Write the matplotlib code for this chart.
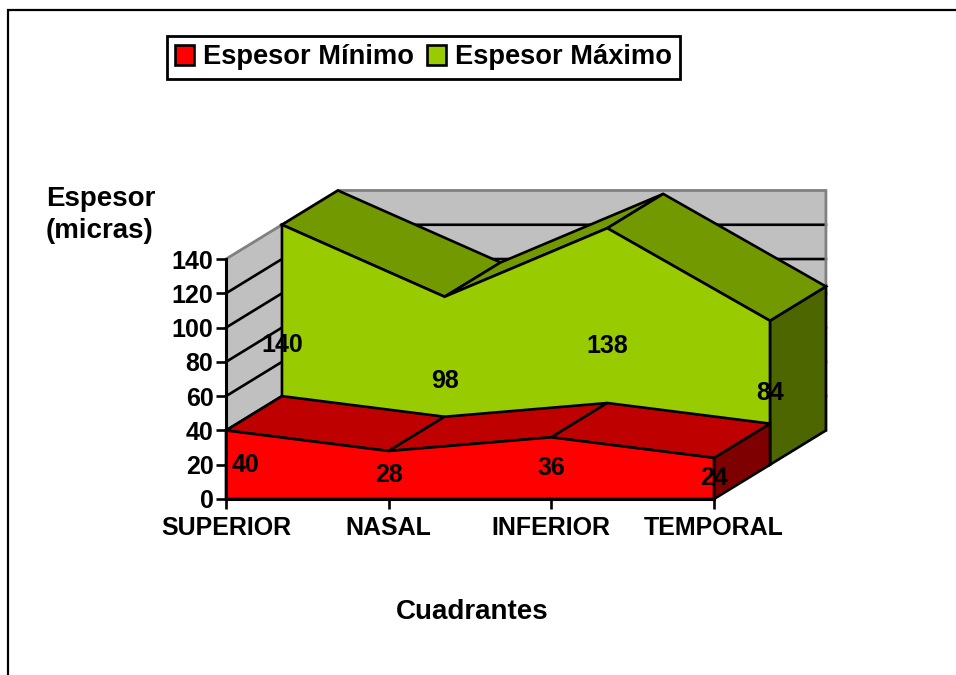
import matplotlib
matplotlib.use("Agg")
import matplotlib.pyplot as plt
from matplotlib.patches import Patch, Polygon, Rectangle

plt.rcParams['font.family'] = ['Liberation Sans', 'DejaVu Sans']
plt.rcParams['font.weight'] = 'bold'

categories = ['SUPERIOR', 'NASAL', 'INFERIOR', 'TEMPORAL']
espesor_min = [40, 28, 36, 24]
espesor_max = [140, 98, 138, 84]
y_ticks = [0, 20, 40, 60, 80, 100, 120, 140]

W, H = 956, 675
# pixel position of the axes origin and scale per category / per micra
X0, Y0 = 226, 499
PX_CAT = 162.67
PX_VAL = 1.714
# oblique depth step, in data units
DX, DY = 0.344, 20
LW = 1.9


def proj(cat, val, depth):
    return (cat + depth * DX, val + depth * DY)


def face(ax, pts, color, z, edge='black'):
    xy = [proj(*p) for p in pts]
    ax.add_patch(Polygon(xy, closed=True, facecolor=color, edgecolor=edge,
                         linewidth=LW, joinstyle='miter', zorder=z))


def area3d(ax, vals, depth, front, top, side, z):
    n = len(vals)
    # right end cap
    face(ax, [(n - 1, vals[-1], depth), (n - 1, vals[-1], depth + 1),
              (n - 1, 0, depth + 1), (n - 1, 0, depth)], side, z)
    # top faces
    for i in range(n - 1):
        face(ax, [(i, vals[i], depth), (i + 1, vals[i + 1], depth),
                  (i + 1, vals[i + 1], depth + 1), (i, vals[i], depth + 1)], top, z)
    # front face
    pts = [(i, vals[i], depth) for i in range(n)]
    pts += [(n - 1, 0, depth), (0, 0, depth)]
    face(ax, pts, front, z)


fig = plt.figure(figsize=(W / 100, H / 100), dpi=100)
ax = fig.add_axes([0, 0, 1, 1])
ax.set_xlim(-X0 / PX_CAT, (W - X0) / PX_CAT)
ax.set_ylim(-(H - Y0) / PX_VAL, Y0 / PX_VAL)
ax.patch.set_visible(False)

# outer frame, runs off the picture on the right and bottom
fig.add_artist(Rectangle((7.5 / W, -0.2), 2, 1.2 - 9.5 / H, transform=fig.transFigure,
                         fill=False, edgecolor='black', linewidth=1.6))

# walls
wall = '#C0C0C0'
face(ax, [(0, 0, 0), (0, 140, 0), (0, 140, 2), (0, 0, 2)], wall, 1, edge='none')
face(ax, [(0, 0, 2), (0, 140, 2), (3, 140, 2), (3, 0, 2)], wall, 1, edge='none')
for v in y_ticks[1:-1]:
    xs, ys = zip(proj(0, v, 0), proj(0, v, 2), proj(3, v, 2))
    ax.plot(xs, ys, color='black', lw=LW, zorder=2)
xs, ys = zip(proj(0, 140, 0), proj(0, 140, 2), proj(3, 140, 2), proj(3, 0, 2))
ax.plot(xs, ys, color='#808080', lw=2, zorder=2, solid_joinstyle='miter')

area3d(ax, espesor_max, 1, '#99CC00', '#739900', '#4D6600', 3)
area3d(ax, espesor_min, 0, '#FF0000', '#BF0000', '#7F0000', 4)

# data labels sit at half height of each series
for i, v in enumerate(espesor_max):
    x, y = proj(i, v / 2, 1)
    ax.text(x, y, str(v), ha='center', va='center', fontsize=18, zorder=6)
for i, v in enumerate(espesor_min):
    x, y = proj(i, v / 2, 0)
    if i == 0:
        x += 0.12
    ax.text(x, y, str(v), ha='center', va='center', fontsize=18, zorder=6)

# axes
for s in ['top', 'right']:
    ax.spines[s].set_visible(False)
ax.spines['left'].set_position(('data', 0))
ax.spines['bottom'].set_position(('data', 0))
ax.spines['left'].set_bounds(0, 140)
ax.spines['bottom'].set_bounds(0, 3)
for s in ['left', 'bottom']:
    ax.spines[s].set_linewidth(2.2)
    ax.spines[s].set_zorder(5)
ax.set_xticks(range(len(categories)))
ax.set_xticklabels(categories)
ax.set_yticks(y_ticks)
ax.tick_params(axis='both', length=7, width=1.9, color='black')
ax.tick_params(axis='y', labelsize=18, pad=2)
ax.tick_params(axis='x', labelsize=18, pad=5)
ax.set_axisbelow(False)

ax.text(472 / W, 1 - 612 / H, 'Cuadrantes', transform=fig.transFigure,
        ha='center', va='center', fontsize=20)
ax.text(46 / W, 1 - 215 / H, 'Espesor\n(micras)', transform=fig.transFigure,
        ha='left', va='center', fontsize=20, linespacing=1.25)

handles = [Patch(facecolor='#FF0000', edgecolor='black', linewidth=LW, label='Espesor Mínimo'),
           Patch(facecolor='#99CC00', edgecolor='black', linewidth=LW, label='Espesor Máximo')]
leg = ax.legend(handles=handles, ncol=2, loc='center', fontsize=19.6,
                bbox_to_anchor=(423.5 / W, 1 - 57.5 / H), bbox_transform=fig.transFigure,
                fancybox=False, framealpha=1, edgecolor='black',
                handlelength=0.7, handleheight=0.7, handletextpad=0.35,
                columnspacing=0.45, borderpad=0.3, borderaxespad=0)
leg.get_frame().set_linewidth(2)
leg.set_zorder(7)

fig.savefig('out.png', dpi=100)
